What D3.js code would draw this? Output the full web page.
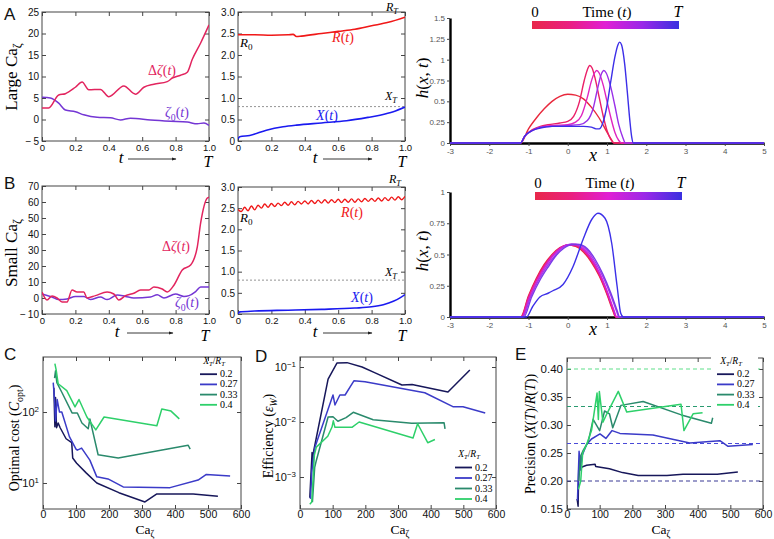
<!DOCTYPE html>
<html><head><meta charset="utf-8">
<script src="https://cdn.jsdelivr.net/npm/d3@7"></script>
<style>body{margin:0;background:#fff}svg{display:block}</style>
</head><body>
<script>
// ===================== DATA =====================
// Panel A (large Ca_zeta): t in [0,1]
const A_dzeta = [[0,2.7],[0.04,2.7],[0.1,5.7],[0.14,6],[0.2,7.5],[0.24,8.7],[0.28,6.9],[0.35,7],[0.4,5.3],[0.49,7.8],[0.56,5.9],[0.61,7.5],[0.67,8.2],[0.75,8.8],[0.78,9.6],[0.83,10.3],[0.87,11],[0.9,14],[0.95,17.8],[1.0,22]];
const A_zeta0 = [[0,5.2],[0.05,5],[0.1,3.8],[0.14,2.2],[0.2,1.8],[0.25,1.1],[0.33,0.5],[0.41,0.4],[0.47,-0.1],[0.53,0.3],[0.65,-0.1],[0.77,-0.4],[0.87,-0.6],[0.93,-1.0],[0.97,-0.8],[1.0,-1.4]];
const A_R = [[0,2.47],[0.1,2.47],[0.2,2.46],[0.3,2.47],[0.33,2.48],[0.35,2.43],[0.38,2.44],[0.5,2.5],[0.6,2.55],[0.7,2.6],[0.8,2.68],[0.9,2.76],[1.0,2.88]];
const A_X = [[0,0.05],[0.01,0.1],[0.07,0.13],[0.17,0.25],[0.27,0.33],[0.35,0.37],[0.5,0.42],[0.65,0.47],[0.78,0.55],[0.85,0.6],[0.93,0.68],[1.0,0.79]];
const XT_value = 0.8;
// Panel B (small Ca_zeta)
const B_dzeta = [[0,3.75],[0.03,-1.2],[0.06,1.2],[0.09,0],[0.12,-2.5],[0.15,-2.5],[0.18,5],[0.21,3.75],[0.25,3.75],[0.27,0],[0.32,1.5],[0.39,3.75],[0.43,2.5],[0.46,-1.2],[0.5,1.5],[0.55,3],[0.59,5],[0.64,5],[0.67,6.9],[0.72,5.6],[0.75,3.75],[0.79,8],[0.84,17.5],[0.89,20.6],[0.93,32],[0.95,46.9],[0.99,62.5],[1.0,63]];
const B_zeta0 = [[0,2.5],[0.06,0.6],[0.1,-1],[0.15,-0.6],[0.2,1],[0.25,1],[0.29,-1],[0.35,0.6],[0.39,-1],[0.45,1.9],[0.5,1],[0.55,0],[0.65,0.6],[0.69,2],[0.73,0],[0.8,2.5],[0.85,1],[0.88,1.5],[0.92,4],[0.95,6.9],[1.0,6.9]];
const B_R = [[0,2.47],[0.02,2.42],[0.04,2.52],[0.06,2.44],[0.08,2.55],[0.10,2.46],[0.12,2.57],[0.14,2.5],[0.16,2.6],[0.18,2.52],[0.20,2.61],[0.22,2.54],[0.24,2.62],[0.26,2.56],[0.28,2.64],[0.30,2.57],[0.32,2.65],[0.34,2.58],[0.36,2.66],[0.38,2.6],[0.40,2.67],[0.42,2.6],[0.44,2.68],[0.46,2.61],[0.48,2.69],[0.50,2.62],[0.52,2.7],[0.54,2.62],[0.56,2.7],[0.58,2.63],[0.60,2.71],[0.62,2.63],[0.64,2.71],[0.66,2.64],[0.68,2.72],[0.70,2.64],[0.72,2.72],[0.74,2.65],[0.76,2.73],[0.78,2.66],[0.80,2.73],[0.82,2.66],[0.84,2.74],[0.86,2.67],[0.88,2.75],[0.90,2.68],[0.92,2.76],[0.94,2.69],[0.96,2.77],[0.98,2.7],[1.0,2.78]];
const B_X = [[0,0],[0.01,0.05],[0.1,0.07],[0.3,0.09],[0.5,0.11],[0.7,0.14],[0.8,0.17],[0.87,0.22],[0.93,0.3],[0.97,0.38],[1.0,0.46]];
// h(x,t) profiles, large Ca
const hA1 = [[-3,0],[-1.2,0],[-1.0,0.17],[-0.8,0.3],[-0.6,0.41],[-0.4,0.5],[-0.2,0.56],[0,0.585],[0.2,0.575],[0.4,0.53],[0.6,0.43],[0.8,0.3],[1.0,0.13],[1.1,0.05],[1.18,0],[5,0]];
const hA2 = [[-3,0],[-1.2,0],[-1.1,0.08],[-0.9,0.16],[-0.7,0.2],[-0.5,0.22],[-0.2,0.24],[0,0.26],[0.15,0.32],[0.3,0.5],[0.42,0.75],[0.5,0.88],[0.56,0.93],[0.62,0.9],[0.7,0.77],[0.8,0.55],[0.9,0.33],[1.0,0.15],[1.1,0.04],[1.18,0],[5,0]];
const hA3 = [[-3,0],[-1.2,0],[-1.1,0.08],[-0.9,0.15],[-0.7,0.19],[-0.4,0.21],[0,0.22],[0.2,0.25],[0.35,0.33],[0.5,0.55],[0.6,0.74],[0.68,0.84],[0.74,0.87],[0.8,0.84],[0.9,0.7],[1.0,0.5],[1.1,0.3],[1.2,0.13],[1.3,0.03],[1.38,0],[5,0]];
const hA4 = [[-3,0],[-1.2,0],[-1.1,0.08],[-0.9,0.15],[-0.7,0.19],[-0.4,0.2],[0,0.21],[0.3,0.22],[0.5,0.27],[0.65,0.42],[0.75,0.63],[0.85,0.82],[0.92,0.87],[0.98,0.84],[1.08,0.7],[1.2,0.45],[1.3,0.22],[1.4,0.07],[1.47,0],[5,0]];
const hA5 = [[-3,0],[-1.2,0],[-1.1,0.08],[-0.9,0.15],[-0.7,0.18],[-0.4,0.2],[0,0.2],[0.4,0.2],[0.6,0.19],[0.72,0.17],[0.8,0.17],[0.9,0.25],[1.0,0.45],[1.1,0.75],[1.2,1.03],[1.28,1.18],[1.32,1.21],[1.37,1.18],[1.45,0.95],[1.52,0.6],[1.58,0.28],[1.63,0.07],[1.67,0],[5,0]];
const hA_colors = ['#e8283c','#ea2068','#e024c0','#9a30e8','#3c2ee8'];
// h(x,t) profiles, small Ca
const hB1 = [[-3,0],[-1.2,0],[-1.0,0.17],[-0.8,0.31],[-0.6,0.42],[-0.4,0.5],[-0.2,0.555],[0,0.575],[0.2,0.565],[0.4,0.52],[0.6,0.44],[0.8,0.33],[1.0,0.18],[1.15,0.05],[1.22,0],[5,0]];
const hB2 = [[-3,0],[-1.19,0],[-1.0,0.16],[-0.8,0.3],[-0.6,0.41],[-0.4,0.49],[-0.2,0.55],[0,0.575],[0.2,0.57],[0.4,0.53],[0.6,0.45],[0.8,0.34],[1.0,0.19],[1.15,0.06],[1.23,0],[5,0]];
const hB3 = [[-3,0],[-1.18,0],[-1.0,0.15],[-0.8,0.29],[-0.6,0.4],[-0.4,0.49],[-0.2,0.55],[0,0.578],[0.2,0.575],[0.4,0.535],[0.6,0.46],[0.8,0.35],[1.0,0.2],[1.16,0.06],[1.24,0],[5,0]];
const hB4 = [[-3,0],[-1.16,0],[-1.0,0.13],[-0.8,0.27],[-0.6,0.39],[-0.4,0.48],[-0.2,0.545],[0,0.578],[0.2,0.58],[0.4,0.545],[0.6,0.47],[0.8,0.36],[1.0,0.21],[1.17,0.06],[1.25,0],[5,0]];
const hB5 = [[-3,0],[-1.15,0],[-0.95,0.16],[-0.7,0.32],[-0.5,0.42],[-0.3,0.5],[-0.1,0.56],[0.1,0.585],[0.3,0.578],[0.5,0.53],[0.7,0.44],[0.9,0.32],[1.1,0.17],[1.25,0.04],[1.3,0],[5,0]];
const hB6 = [[-3,0],[-1.12,0],[-0.92,0.16],[-0.7,0.3],[-0.5,0.4],[-0.3,0.49],[-0.1,0.55],[0.1,0.58],[0.3,0.58],[0.5,0.545],[0.7,0.46],[0.9,0.34],[1.1,0.19],[1.26,0.05],[1.32,0],[5,0]];
const hB7 = [[-3,0],[-1.05,0],[-0.9,0.08],[-0.71,0.16],[-0.5,0.19],[-0.38,0.21],[-0.12,0.26],[0.13,0.4],[0.39,0.62],[0.61,0.78],[0.77,0.83],[0.95,0.79],[1.12,0.59],[1.26,0.24],[1.35,0.03],[1.42,0],[5,0]];
const hB_colors = ['#e8283c','#ea2070','#e020a8','#d020d8','#a838e8','#7a3ae8','#3c30e8'];
// Panels C, D, E : Ca_zeta vs quantity, for four X_T/R_T
const ratioLabels = ['0.2','0.27','0.33','0.4'];
const ratioColors = ['#17175a','#3b3bc8','#2a8a6c','#2ed06a'];
const cost02 = [[33,220],[36,62],[38,160],[41,60],[46,70],[52,60],[70,42],[87,37],[90,22.5],[102,19],[130,14],[163,10],[230,7.3],[309,5.4],[345,7],[455,7],[530,6.5]];
const cost027 = [[31,260],[35,150],[38,75],[43,150],[50,100],[57,100],[80,45],[100,30],[104,29],[117,31],[142,21],[163,12.2],[197,11.4],[243,8.8],[385,8.6],[470,11],[495,13.2],[567,12.5]];
const cost033 = [[35,300],[38,380],[42,260],[57,190],[88,97],[104,97],[118,70],[137,58],[142,80],[167,25],[228,22.5],[440,34],[446,30]];
const cost04 = [[36,480],[40,390],[46,250],[72,200],[97,118],[109,150],[133,85],[160,56],[185,85],[345,64],[360,110],[388,103],[413,80]];
const eff02 = [[30,4.2e-4],[37,2.8e-3],[39,1.5e-3],[42,3e-3],[86,0.06],[113,0.118],[144,0.12],[190,0.1],[230,0.078],[312,0.047],[343,0.048],[453,0.035],[520,0.088]];
const eff027 = [[32,4e-4],[36,1.2e-3],[40,2e-3],[46,3.5e-3],[101,0.031],[107,0.0204],[122,0.031],[138,0.031],[165,0.056],[199,0.054],[382,0.034],[468,0.019],[499,0.019],[567,0.0146]];
const eff033 = [[38,3.5e-4],[45,1.5e-3],[50,2e-3],[86,0.0123],[101,0.0125],[116,0.0103],[141,0.012],[163,0.015],[224,0.011],[342,0.0095],[441,0.0097],[444,0.0075]];
const eff04 = [[30,3.2e-4],[36,3.5e-4],[44,2.5e-3],[50,3.5e-3],[85,5.5e-3],[98,0.0081],[102,0.0105],[107,0.008],[159,0.008],[181,0.01],[346,0.0051],[360,0.0093],[391,0.0042],[413,0.0048]];
const prec02 = [[31,0.168],[34,0.155],[36,0.225],[40,0.22],[46,0.225],[60,0.228],[86,0.23],[88,0.226],[130,0.222],[170,0.215],[218,0.21],[306,0.21],[355,0.212],[460,0.212],[523,0.216]];
const prec027 = [[32,0.165],[37,0.253],[41,0.22],[46,0.245],[60,0.265],[75,0.275],[101,0.284],[119,0.276],[138,0.29],[162,0.285],[263,0.282],[376,0.268],[468,0.272],[493,0.262],[569,0.265]];
const prec033 = [[36,0.2],[42,0.245],[50,0.255],[65,0.27],[80,0.31],[100,0.29],[115,0.325],[130,0.32],[140,0.295],[165,0.335],[233,0.342],[350,0.318],[442,0.303],[446,0.313]];
const prec04 = [[35,0.185],[42,0.2],[48,0.25],[60,0.265],[75,0.29],[92,0.357],[96,0.31],[99,0.36],[110,0.305],[122,0.32],[157,0.36],[183,0.323],[349,0.337],[358,0.29],[386,0.32],[415,0.322]];
const precTargets = [0.2, 0.267, 0.333, 0.4];
const precTargetColors = ['#3a3a96','#4a4ad8','#2a9a70','#5ee08a'];
// tick values
const tTicks = [0,0.2,0.4,0.6,0.8,1.0];
const A1yTicks = [-5,0,5,10,15,20,25];
const B1yTicks = [-10,0,10,20,30,40,50,60,70];
const RXTicks = [0,0.5,1,1.5,2,2.5,3];
const hXTicks = [-3,-2,-1,0,1,2,3,4,5];
const hATicks = [0,0.25,0.5,0.75,1,1.25,1.5];
const hBTicks = [0,0.25,0.5,0.75,1];
const caTicks = [0,100,200,300,400,500,600];
const costTicks = [10,100];
const effTicks = [1e-3,1e-2,1e-1];
const precTicks = [0.15,0.2,0.25,0.3,0.35,0.4];

// ===================== DRAWING =====================
const SANS = 'Liberation Sans, Arial, Helvetica, sans-serif';
const SERIF = 'Liberation Serif, Times New Roman, serif';
const svg = d3.select('body').append('svg').attr('width',774).attr('height',539);
svg.append('rect').attr('width',774).attr('height',539).attr('fill','#fff');
const defs = svg.append('defs');
let clipN = 0;

function rich(x, y, parts, o={}) {
  const fs = o.size || 12;
  const t = svg.append('text').attr('x',x).attr('y',y).attr('font-family',o.family||SERIF)
    .attr('font-size',fs).attr('fill',o.fill||'#000').attr('text-anchor',o.anchor||'start');
  if (o.rotate) t.attr('transform',`rotate(${o.rotate},${x},${y})`);
  let prev = 0;
  parts.forEach(p => {
    const [s, st] = Array.isArray(p) ? p : [p, ''];
    let shift = 0, size = fs;
    if (st.includes('b')) { shift = fs*0.25; size = fs*0.7; }
    if (st.includes('p')) { shift = -fs*0.4; size = fs*0.7; }
    const ts = t.append('tspan').attr('dy', shift-prev).attr('font-size', size).text(s);
    if (st.includes('i')) ts.attr('font-style','italic');
    prev = shift;
  });
  return t;
}

function framed(o) {
  const g = svg.append('g');
  const x = d3.scaleLinear().domain(o.xd).range([o.L,o.R]);
  const y = (o.yLog ? d3.scaleLog() : d3.scaleLinear()).domain(o.yd).range([o.B,o.T]);
  const ts = o.ts || 4, fs = o.fs || 10, col = o.col || '#444';
  const mk = (axis, tr, fmt, vals, sc, pad, size) => {
    const a = axis(sc).tickValues(vals).tickSizeInner(-ts).tickSizeOuter(0).tickPadding(pad)
      .tickFormat(fmt || (() => ''));
    const ag = g.append('g').attr('transform',tr).call(a);
    ag.select('.domain').remove();
    ag.selectAll('.tick line').attr('stroke',col);
    ag.selectAll('.tick text').attr('font-family',SANS).attr('font-size',size).attr('fill','#111');
    return ag;
  };
  const bx = mk(d3.axisBottom, `translate(0,${o.B})`, o.xf, o.xt, x, o.padx||3, o.fsx||fs);
  mk(d3.axisTop, `translate(0,${o.T})`, null, o.xt, x, 3, fs);
  const ly = mk(d3.axisLeft, `translate(${o.L},0)`, o.yf, o.yt, y, o.pady||3, fs);
  mk(d3.axisRight, `translate(${o.R},0)`, null, o.yt, y, 3, fs);
  g.append('rect').attr('x',o.L).attr('y',o.T).attr('width',o.R-o.L).attr('height',o.B-o.T)
    .attr('fill','none').attr('stroke',col).attr('stroke-width',1);
  const id = 'clip'+(clipN++);
  defs.append('clipPath').attr('id',id).append('rect').attr('x',o.L).attr('y',o.T)
    .attr('width',o.R-o.L).attr('height',o.B-o.T);
  const plot = g.append('g').attr('clip-path',`url(#${id})`);
  return {g,x,y,plot,bx,ly};
}

function drawLine(P, data, color, w=1.5, curve=d3.curveLinear, dash=null) {
  const p = P.plot.append('path').datum(data)
    .attr('d', d3.line().x(d=>P.x(d[0])).y(d=>P.y(d[1])).curve(curve))
    .attr('fill','none').attr('stroke',color).attr('stroke-width',w).attr('stroke-linejoin','round');
  if (dash) p.attr('stroke-dasharray',dash);
  return p;
}

const minus = d => d < 0 ? '\u2212\u2009' + Math.abs(d) : String(d);
const tFmt = d => d === 0 ? '0' : d.toFixed(1);
const rFmt = d => d === 0 ? '0' : d.toFixed(1);

// arrow marker
defs.append('marker').attr('id','arr').attr('viewBox','0 0 10 10').attr('refX',9).attr('refY',5)
  .attr('markerWidth',6).attr('markerHeight',5).attr('orient','auto')
  .append('path').attr('d','M0,1.5L10,5L0,8.5Z').attr('fill','#222');

function timeAxisLabel(xt, xa0, xa1, xT, yb) {
  rich(xt, yb, [['t','i']], {size:17, anchor:'middle'});
  svg.append('line').attr('x1',xa0).attr('x2',xa1).attr('y1',yb-4).attr('y2',yb-4)
    .attr('stroke','#222').attr('stroke-width',0.9).attr('marker-end','url(#arr)');
  rich(xT, yb+4, [['T','i']], {size:16, anchor:'middle'});
}

// ---------- Panel A1 ----------
const PA1 = framed({L:42,R:209,T:12,B:141,xd:[0,1],yd:[-5,25],xt:tTicks,yt:A1yTicks,xf:tFmt,yf:minus,fsx:9.5});
drawLine(PA1, A_zeta0, '#7436d4', 1.5, d3.curveMonotoneX);
drawLine(PA1, A_dzeta, '#e2245e', 1.5, d3.curveMonotoneX);
rich(162, 75, ['Δ',['ζ','i'],'(',['t','i'],')'], {size:14, fill:'#e2245e', anchor:'middle'});
rich(177, 117, [['ζ','i'],['0','b'],'(',['t','i'],')'], {size:14, fill:'#7436d4', anchor:'middle'});
rich(17, 77, ['Large Ca',['ζ','b']], {size:17, rotate:-90, anchor:'middle'});
timeAxisLabel(121, 128, 176, 208, 163);

// ---------- Panel A2 ----------
const PA2 = framed({L:238,R:405,T:12,B:141,xd:[0,1],yd:[0,3],xt:tTicks,yt:RXTicks,xf:tFmt,yf:rFmt,fsx:9.5});
drawLine(PA2, [[0,XT_value],[1,XT_value]], '#777', 0.8, d3.curveLinear, '2,2');
drawLine(PA2, A_R, '#f01818', 1.6, d3.curveMonotoneX);
drawLine(PA2, A_X, '#1a1af0', 1.6, d3.curveMonotoneX);
rich(343, 42, [['R','i'],'(',['t','i'],')'], {size:14, fill:'#f01818', anchor:'middle'});
rich(327, 120, [['X','i'],'(',['t','i'],')'], {size:14, fill:'#1a1af0', anchor:'middle'});
rich(240, 47, [['R','i'],['0','b']], {size:13});
rich(392, 11, [['R','i'],['T','ib']], {size:12, anchor:'middle'});
rich(391, 100, [['X','i'],['T','ib']], {size:12, anchor:'middle'});
timeAxisLabel(315, 323, 372, 402, 163);

// ---------- Panel B1 ----------
const PB1 = framed({L:42,R:209,T:186,B:314,xd:[0,1],yd:[-10,70],xt:tTicks,yt:B1yTicks,xf:tFmt,yf:minus,fsx:9.5});
drawLine(PB1, B_zeta0, '#7436d4', 1.5, d3.curveMonotoneX);
drawLine(PB1, B_dzeta, '#e2245e', 1.5, d3.curveMonotoneX);
rich(176, 251, ['Δ',['ζ','i'],'(',['t','i'],')'], {size:14, fill:'#e2245e', anchor:'middle'});
rich(187, 307, [['ζ','i'],['0','b'],'(',['t','i'],')'], {size:14, fill:'#7436d4', anchor:'middle'});
rich(17, 253, ['Small Ca',['ζ','b']], {size:17, rotate:-90, anchor:'middle'});
timeAxisLabel(117, 127, 173, 205, 337);

// ---------- Panel B2 ----------
const PB2 = framed({L:238,R:405,T:187,B:314,xd:[0,1],yd:[0,3],xt:tTicks,yt:RXTicks,xf:tFmt,yf:rFmt,fsx:9.5});
drawLine(PB2, [[0,XT_value],[1,XT_value]], '#777', 0.8, d3.curveLinear, '2,2');
drawLine(PB2, B_R, '#f01818', 1.4, d3.curveMonotoneX);
drawLine(PB2, B_X, '#1a1af0', 1.6, d3.curveMonotoneX);
rich(352, 217, [['R','i'],'(',['t','i'],')'], {size:14, fill:'#f01818', anchor:'middle'});
rich(362, 302, [['X','i'],'(',['t','i'],')'], {size:14, fill:'#1a1af0', anchor:'middle'});
rich(240, 222, [['R','i'],['0','b']], {size:13});
rich(395, 183, [['R','i'],['T','ib']], {size:12, anchor:'middle'});
rich(391, 276, [['X','i'],['T','ib']], {size:12, anchor:'middle'});
timeAxisLabel(315, 323, 372, 402, 337);

// ---------- h(x,t) panels ----------
const grad = defs.append('linearGradient').attr('id','tgrad');
[['0%','#e8284a'],['25%','#ea2080'],['50%','#e020d4'],['75%','#9a28e8'],['100%','#3a30e0']]
  .forEach(([o,c]) => grad.append('stop').attr('offset',o).attr('stop-color',c));

function hPanel(o) {
  const x = d3.scaleLinear().domain([-3,5]).range([450,764]);
  const y = d3.scaleLinear().domain([0,o.hmax]).range([o.y0,o.yTop]);
  const g = svg.append('g');
  const ax = g.append('g').attr('transform',`translate(0,${o.y0})`)
    .call(d3.axisBottom(x).tickValues(hXTicks).tickSizeInner(3).tickSizeOuter(0).tickPadding(2).tickFormat(d=>String(d)));
  ax.select('.domain').attr('stroke','#000').attr('stroke-width',2.4);
  ax.selectAll('.tick line').attr('stroke','#444');
  ax.selectAll('.tick text').attr('font-family',SANS).attr('font-size',8).attr('fill','#555');
  const ay = g.append('g').attr('transform','translate(450,0)')
    .call(d3.axisLeft(y).tickValues(o.ticks).tickSizeInner(3).tickSizeOuter(0).tickPadding(2).tickFormat(d=>String(d)));
  ay.select('.domain').attr('stroke','#000').attr('stroke-width',2.4);
  ay.selectAll('.tick line').attr('stroke','#444');
  ay.selectAll('.tick text').attr('font-family',SANS).attr('font-size',8).attr('fill','#555');
  const ln = d3.line().x(d=>x(d[0])).y(d=>y(d[1])).curve(d3.curveMonotoneX);
  o.curves.forEach((c,i) => g.append('path').datum(c).attr('d',ln).attr('fill','none')
    .attr('stroke',o.colors[i]).attr('stroke-width',1.4));
  // colorbar
  svg.append('rect').attr('x',o.cbx).attr('y',o.cby).attr('width',147).attr('height',8).attr('fill','url(#tgrad)');
  rich(o.cbx+3, o.cby-4, ['0'], {size:15, anchor:'middle'});
  rich(o.cbx+75, o.cby-4, ['Time (',['t','i'],')'], {size:15, anchor:'middle'});
  rich(o.cbx+146, o.cby-4, [['T','i']], {size:16, anchor:'middle'});
  rich(428, o.ly, [['h','i'],'(',['x','i'],', ',['t','i'],')'], {size:17, rotate:-90, anchor:'middle'});
  rich(593, o.y0+18, [['x','i']], {size:18, anchor:'middle'});
}
hPanel({y0:143, yTop:18, hmax:1.5, ticks:hATicks, curves:[hA1,hA2,hA3,hA4,hA5], colors:hA_colors, cbx:532, cby:21, ly:78});
hPanel({y0:317, yTop:192, hmax:1, ticks:hBTicks, curves:[hB1,hB2,hB3,hB4,hB5,hB6,hB7], colors:hB_colors, cbx:535, cby:192, ly:251});

// ---------- C, D, E ----------
function powLabels(P) {
  P.ly.selectAll('.tick text').each(function(d) {
    const t = d3.select(this); t.text('10');
    const e = Math.round(Math.log10(d));
    t.append('tspan').attr('dy','-0.55em').attr('font-size','0.72em').text(e < 0 ? '\u2212' + Math.abs(e) : String(e));
  });
}
function legend(x, yTitle, gap, withBg) {
  if (withBg) svg.append('rect').attr('x',x-8).attr('y',yTitle-10).attr('width',47).attr('height',gap*4+15).attr('fill','#fff');
  rich(x+12, yTitle-1, [['X','i'],['T','ib'],'/',['R','i'],['T','ib']], {size:9.5, anchor:'middle'});
  ratioLabels.forEach((lab,i) => {
    const yy = yTitle + 2 + gap*(i+1);
    svg.append('line').attr('x1',x-2).attr('x2',x+15).attr('y1',yy-3).attr('y2',yy-3)
      .attr('stroke',ratioColors[i]).attr('stroke-width',1.8);
    rich(x+18, yy, [lab], {size:10});
  });
}

const PC = framed({L:43,R:241,T:357,B:509,xd:[0,600],yd:[4.3,596],yLog:true,xt:caTicks,yt:costTicks,xf:d3.format('d'),yf:d=>String(d),fs:11,fsx:10.5,padx:2,pady:4});
powLabels(PC);
[cost02,cost027,cost033,cost04].forEach((d,i)=>drawLine(PC,d,ratioColors[i],1.5));
legend(202, 365, 10.2, false);
rich(19, 438, ['Optimal cost (',['C','i'],['opt','b'],')'], {size:14, rotate:-90, anchor:'middle'});
rich(145, 534, ['Ca',['ζ','b']], {size:13.5, anchor:'middle'});

const PD = framed({L:300,R:496,T:357,B:509,xd:[0,600],yd:[2.62e-4,0.152],yLog:true,xt:caTicks,yt:effTicks,xf:d3.format('d'),yf:d=>String(d),fs:11,fsx:10.5,padx:2,pady:4});
powLabels(PD);
[eff02,eff027,eff033,eff04].forEach((d,i)=>drawLine(PD,d,ratioColors[i],1.5));
legend(457, 458, 10.5, false);
rich(273, 436, ['Efficiency (',['ε','i'],['W','ib'],')'], {size:14, rotate:-90, anchor:'middle'});
rich(400, 534, ['Ca',['ζ','b']], {size:13.5, anchor:'middle'});

const PE = framed({L:567,R:763,T:358,B:509,xd:[0,600],yd:[0.15,0.4196],xt:caTicks,yt:precTicks,xf:d3.format('d'),yf:d3.format('.2f'),fs:11.5,fsx:10.5,padx:2,pady:4});
precTargets.forEach((v,i)=>drawLine(PE,[[0,v],[600,v]],precTargetColors[i],1.1,d3.curveLinear,'4,3'));
[prec02,prec027,prec033,prec04].forEach((d,i)=>drawLine(PE,d,ratioColors[i],1.5));
legend(719, 365, 10.2, true);
rich(535, 434, ['Precision (',['X','i'],'(',['T','i'],')/',['R','i'],'(',['T','i'],'))'], {size:14, rotate:-90, anchor:'middle'});
rich(661, 534, ['Ca',['ζ','b']], {size:13.5, anchor:'middle'});

// panel letters
[['A',4,20],['B',4,189],['C',4,360],['D',255,362],['E',515,360]].forEach(([s,x,y]) =>
  svg.append('text').attr('x',x).attr('y',y).attr('font-family',SANS).attr('font-size',17).attr('fill','#111').text(s));
</script>
</body></html>
